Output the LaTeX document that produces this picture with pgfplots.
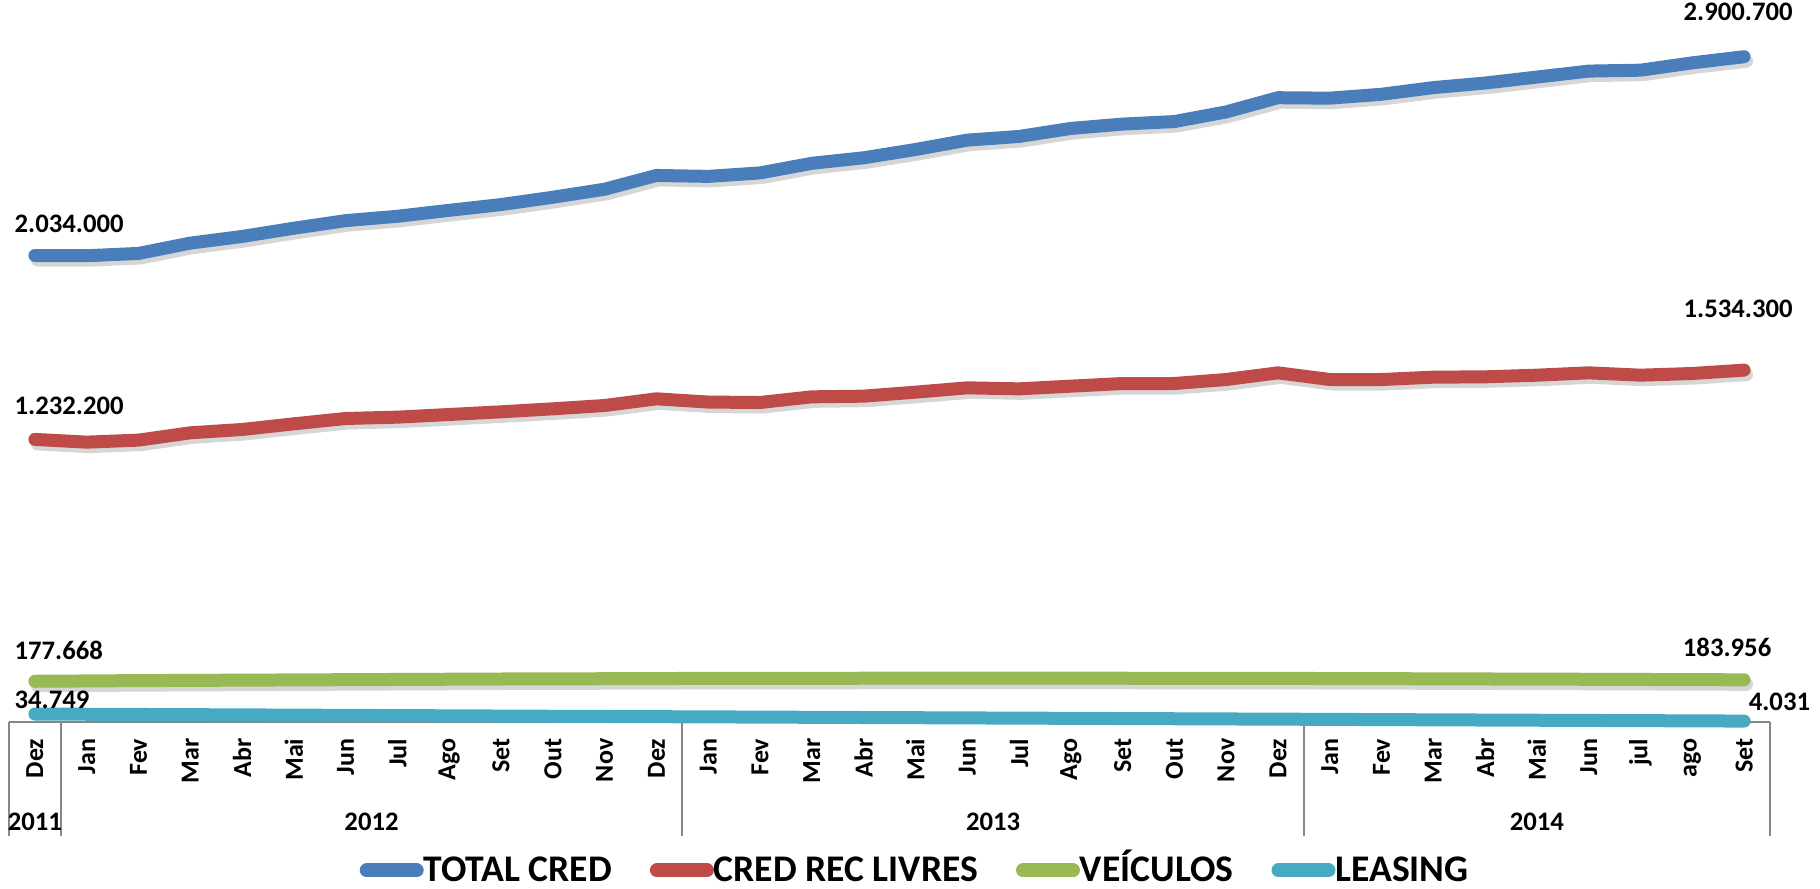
\documentclass[border=0pt]{standalone}
\usepackage{fontspec}
\setmainfont{Carlito}
\usepackage{pgfplots}
\usepackage{pgfplotstable}
\pgfplotsset{compat=1.18}
\definecolor{cBlue}{HTML}{4A7EBB}
\definecolor{cRed}{HTML}{BE4B48}
\definecolor{cGreen}{HTML}{98B954}
\definecolor{cTeal}{HTML}{46AAC5}
\definecolor{axgray}{HTML}{868686}

% x: 0 = Dez 2011 ... 33 = Set 2014
\pgfplotstableread{
x total   cred    veic   leas
0  2034000 1232200 177668 34749
1  2033000 1220200 179000 33800
2  2043000 1229000 180500 32900
3  2088000 1260900 181500 32000
4  2117000 1275400 182500 31000
5  2153000 1300100 183500 30000
6  2186000 1323400 184500 29000
7  2205000 1329200 185500 28000
8  2231000 1340800 186500 27000
9  2256000 1352400 187500 26000
10 2288000 1365500 188000 25000
11 2323000 1380000 188700 24100
12 2383000 1409100 189500 23200
13 2379000 1395000 190000 22300
14 2394000 1393000 190300 21400
15 2436000 1417800 190600 20500
16 2460000 1420700 190800 19600
17 2496000 1438100 191000 18700
18 2537000 1457000 191000 17800
19 2553000 1452600 191000 16900
20 2588000 1464300 191000 16000
21 2607000 1475900 190800 15100
22 2618000 1475900 190600 14200
23 2660000 1493300 190400 13300
24 2722000 1522400 190200 12400
25 2720000 1493300 189500 11500
26 2737000 1493300 189000 10500
27 2766000 1503500 188300 9500
28 2786000 1505000 187600 8600
29 2812000 1512200 187000 7700
30 2838000 1522400 186300 6800
31 2842000 1512200 185500 5900
32 2874000 1519500 184700 5000
33 2900700 1534300 183956 4031
}\dados

\begin{document}
\begin{tikzpicture}
\path[use as bounding box] (0,0) rectangle (18.2cm,8.88cm);
\begin{axis}[
  at={(0.09cm,1.66cm)}, anchor=south west,
  scale only axis, width=17.61cm, height=7.22cm,
  xmin=-0.5, xmax=33.5, ymin=0, ymax=3148000,
  clip=false,
  axis line style={draw=none},
  tick style={draw=none},
  ytick=\empty,
  xtick={0,...,33},
  xticklabels={Dez,Jan,Fev,Mar,Abr,Mai,Jun,Jul,Ago,Set,Out,Nov,Dez,Jan,Fev,Mar,Abr,Mai,Jun,Jul,Ago,Set,Out,Nov,Dez,Jan,Fev,Mar,Abr,Mai,Jun,jul,ago,Set},
  xticklabel style={rotate=90, anchor=east, inner xsep=0.16cm, inner ysep=0pt,
    font=\bfseries\fontsize{7.4}{9}\selectfont},
  every axis plot/.append style={line width=0.13cm, line cap=round, line join=round},
  legend style={at={(axis description cs:0.514,-0.2215)}, anchor=south,
    draw=none, fill=none, legend columns=-1, inner sep=0pt, outer sep=0pt,
    font=\bfseries\fontsize{10.7}{12}\selectfont,
    nodes={inner xsep=0pt, inner ysep=0pt, text height=0.66em, text depth=0pt},
    /tikz/every even column/.append style={column sep=0.38cm}},
  legend image code/.code={\draw[line width=0.14cm, line cap=round] (0cm,0cm) -- (0.5cm,0cm);},
]
% frame of the category axis
\draw[axgray, line width=0.6pt] (axis cs:-0.5,0) -- (axis cs:33.5,0);
\draw[axgray, line width=0.6pt] (axis cs:-0.5,0) -- ++(0pt,-1.14cm);
\draw[axgray, line width=0.6pt] (axis cs:0.5,0) -- ++(0pt,-1.14cm);
\draw[axgray, line width=0.6pt] (axis cs:12.5,0) -- ++(0pt,-1.14cm);
\draw[axgray, line width=0.6pt] (axis cs:24.5,0) -- ++(0pt,-1.14cm);
\draw[axgray, line width=0.6pt] (axis cs:33.5,0) -- ++(0pt,-1.14cm);
% shadows
\addplot[black, opacity=0.16, forget plot, xshift=0.025cm, yshift=-0.045cm] table[x=x,y=total] {\dados};
\addplot[black, opacity=0.16, forget plot, xshift=0.025cm, yshift=-0.045cm] table[x=x,y=cred] {\dados};
\addplot[black, opacity=0.16, forget plot, xshift=0.025cm, yshift=-0.045cm] table[x=x,y=veic] {\dados};
% series
\addplot[cBlue] table[x=x,y=total] {\dados};
\addplot[cRed] table[x=x,y=cred] {\dados};
\addplot[cGreen] table[x=x,y=veic] {\dados};
\addplot[cTeal] table[x=x,y=leas] {\dados};
\legend{TOTAL CRED, CRED REC LIVRES, VEÍCULOS, LEASING}
% value labels
\begin{scope}[every node/.style={font=\bfseries\fontsize{7.6}{9}\selectfont, inner sep=0pt}]
\node[anchor=base west, xshift=-0.21cm, yshift=0.23cm] at (axis cs:0,2034000) {2.034.000};
\node[anchor=base west, xshift=-0.21cm, yshift=0.25cm] at (axis cs:0,1232200) {1.232.200};
\node[anchor=base, xshift=-0.06cm, yshift=0.36cm] at (axis cs:33,2900700) {2.900.700};
\node[anchor=base, xshift=-0.06cm, yshift=0.53cm] at (axis cs:33,1534300) {1.534.300};
\node[anchor=base west, xshift=-0.21cm, yshift=0.22cm] at (axis cs:0,177668) {177.668};
\node[anchor=base west, xshift=-0.21cm, yshift=0.06cm] at (axis cs:0,34749) {34.749};
\node[anchor=base, xshift=-0.17cm, yshift=0.23cm] at (axis cs:33,183956) {183.956};
\node[anchor=base west, xshift=0.04cm, yshift=0.11cm] at (axis cs:33,4031) {4.031};
% years
\node at (axis cs:0,0) [yshift=-1.0cm] {2011};
\node at (axis cs:6.5,0) [yshift=-1.0cm] {2012};
\node at (axis cs:18.5,0) [yshift=-1.0cm] {2013};
\node at (axis cs:29,0) [yshift=-1.0cm] {2014};
\end{scope}
\end{axis}
\end{tikzpicture}
\end{document}
